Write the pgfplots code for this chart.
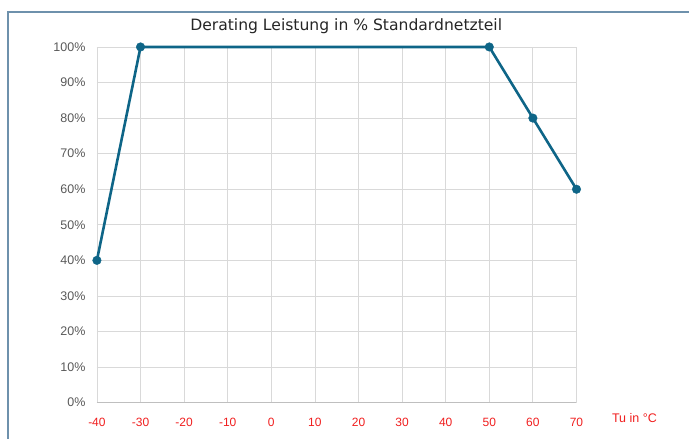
\documentclass[border=0pt]{standalone}
\usepackage{pgfplots}
\pgfplotsset{compat=1.18}
\usepackage{fontspec}
\setmainfont{Liberation Sans}
\newfontfamily\titlefont{DejaVu Sans}
\definecolor{linec}{RGB}{14,101,135}
\definecolor{gridc}{RGB}{217,217,217}
\definecolor{axc}{RGB}{191,191,191}
\definecolor{tickc}{RGB}{89,89,89}
\definecolor{redc}{RGB}{240,30,30}
\definecolor{framec}{RGB}{110,145,172}
\begin{document}
\begin{tikzpicture}[x=1pt,y=1pt]
\path (0,0) rectangle (690,439);
\draw[framec, line width=1.2pt] (8,0) -- (8,427) -- (690,427);
\node[font=\titlefont\fontsize{15.6}{18}\selectfont, text=black!85] at (346.5,413) {Derating Leistung in \% Standardnetzteil};
\begin{axis}[
  scale only axis, width=480pt, height=356pt,
  at={(97pt,36pt)}, anchor=south west,
  xmin=-40, xmax=70, ymin=0, ymax=100,
  xtick={-40,-30,...,70},
  xticklabels={-40,-30,-20,-10,0,10,20,30,40,50,60,70},
  ytick={0,10,...,100},
  yticklabels={0\%,10\%,20\%,30\%,40\%,50\%,60\%,70\%,80\%,90\%,100\%},
  /pgf/number format/assume math mode=true,
  grid=major, major grid style={gridc, line width=0.8pt},
  axis line style={draw=none},
  major tick length=0pt,
  xticklabel style={text=redc, font=\fontsize{12}{14}\selectfont, yshift=-12pt},
  yticklabel style={text=tickc, font=\fontsize{12.5}{14}\selectfont, xshift=-8pt},
  clip=false,
]
\draw[axc, line width=0.8pt] (rel axis cs:0,0) -- (rel axis cs:1,0);
\addplot[linec, line width=2.6pt, mark=*, mark size=4.3pt, mark options={fill=linec, draw=linec, line width=0.4pt}] coordinates {
(-40,40) (-30,100) (50,100) (60,80) (70,60)
};
\node[text=redc, font=\fontsize{12.5}{14}\selectfont] at (rel axis cs:1,0) [xshift=58pt, yshift=-15pt] {Tu in °C};
\end{axis}
\end{tikzpicture}
\end{document}
